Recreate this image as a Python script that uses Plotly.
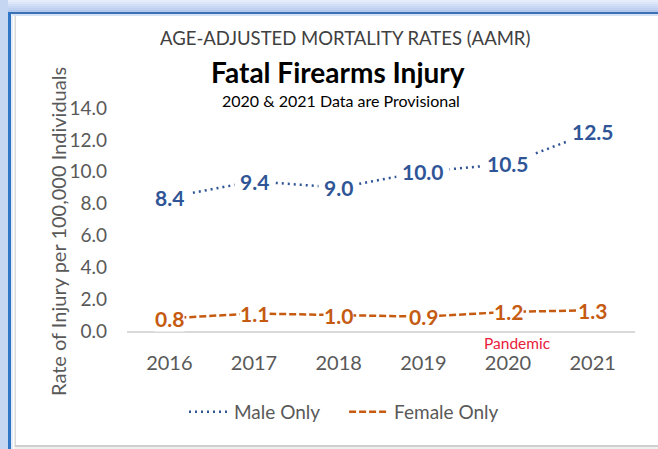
import plotly.graph_objects as go

years = ["2016", "2017", "2018", "2019", "2020", "2021"]
male = [8.4, 9.4, 9.0, 10.0, 10.5, 12.5]
female = [0.8, 1.1, 1.0, 0.9, 1.2, 1.3]
y_ticks = [0, 2, 4, 6, 8, 10, 12, 14]
xi = list(range(len(years)))

W, H = 658, 449
L, R, T, B = 127, 23, 108, 118
PW, PH = W - L - R, H - T - B

def px(x):
    return (x - L) / PW

def py(y):
    return (H - B - y) / PH

FONT = "Lato"
BLUE = "#2F5597"
ORANGE = "#C55A11"
GRAY = "#595959"

fig = go.Figure()
fig.add_trace(go.Scatter(x=xi, y=male, mode="lines", name="Male Only&nbsp;&nbsp;&nbsp;&nbsp;",
                         line=dict(color=BLUE, width=2.5, dash="2px,4px"), cliponaxis=False))
fig.add_trace(go.Scatter(x=xi, y=female, mode="lines", name="Female Only",
                         line=dict(color=ORANGE, width=2.5, dash="7px,3px"), cliponaxis=False))

ann = []
for i, v in zip(xi, male):
    ann.append(dict(x=i, y=v, xref="x", yref="y", text=f"{v:.1f}", showarrow=False,
                    xanchor="center", yanchor="middle",
                    font=dict(family=FONT, size=21, color=BLUE, weight="bold"),
                    bgcolor="white", borderpad=5))
for i, v in zip(xi, female):
    ann.append(dict(x=i, y=v, xref="x", yref="y", text=f"{v:.1f}", showarrow=False,
                    xanchor="center", yanchor="middle",
                    font=dict(family=FONT, size=21, color=ORANGE, weight="bold"),
                    bgcolor="white", borderpad=0))

def pann(x, y, text, size, color, angle=0):
    return dict(x=px(x), y=py(y), xref="paper", yref="paper", text=text, showarrow=False,
                xanchor="center", yanchor="middle", textangle=angle,
                font=dict(family=FONT, size=size, color=color))

ann += [
    pann(345, 38, "AGE-ADJUSTED MORTALITY RATES (AAMR)", 18.5, "#404040"),
    pann(338, 72, "<b>Fatal Firearms Injury</b>", 28, "#000000"),
    pann(341, 101, "2020 &amp; 2021 Data are Provisional", 16, "#000000"),
    pann(58, 232, "Rate of Injury per 100,000 Individuals", 20, GRAY, -90),
    pann(517, 343, "Pandemic", 15.5, "#E8203A"),
]

shapes = []
def rect(x0, y0, x1, y1, c):
    shapes.append(dict(type="rect", xref="paper", yref="paper", x0=px(x0), x1=px(x1),
                       y0=py(y0), y1=py(y1), fillcolor=c, line=dict(width=0), layer="below"))

glow = ["#E6EEFB", "#DCE6F8", "#D2DFF6", "#C9D8F4", "#C0D1F2", "#B5C9EF"]
for i, c in enumerate(glow):
    rect(0, i * 2, W, i * 2 + 2, c)
rect(0, 0, 8, H, "#C5D6F3")
rect(8, 12, W, 14, "#3C70B4")
rect(8, 14, W, 16, "#D6E2F5")
rect(8, 12, 11, H, "#2E75C6")
rect(11, 14, 13, H, "#E3ECF8")
rect(14.5, 16, 16, 446, "#D9D9D9")
rect(14.5, 445, W, 447, "#D0D0D0")
rect(14.5, 447, W, H, "#EFEFEF")

fig.update_layout(
    width=W, height=H,
    margin=dict(l=L, r=R, t=T, b=B, autoexpand=False),
    paper_bgcolor="white", plot_bgcolor="white",
    font=dict(family=FONT, color=GRAY),
    annotations=ann, shapes=shapes,
    showlegend=True,
    legend=dict(orientation="h", x=px(344), xanchor="center", y=py(412), yanchor="middle",
                font=dict(family=FONT, size=19, color=GRAY), bgcolor="rgba(0,0,0,0)",
                itemwidth=40, tracegroupgap=0),
    xaxis=dict(range=[-0.5, 5.5], tickvals=xi, ticktext=years, showgrid=False, showline=True,
               linecolor="#D9D9D9", linewidth=1.5,
               ticks="", tickfont=dict(family=FONT, size=20, color=GRAY), ticklabelstandoff=13,
               zeroline=False, fixedrange=True),
    yaxis=dict(range=[0, 14], tickvals=y_ticks, ticktext=[f"{t:.1f}" for t in y_ticks],
               showgrid=False, showline=False, zeroline=False, ticks="",
               tickfont=dict(family=FONT, size=19, color=GRAY), ticklabelstandoff=19, fixedrange=True),
)

fig.write_html("out.html", config={"displayModeBar": False},
               post_script="document.body.style.margin='0';document.body.style.overflow='hidden';")
